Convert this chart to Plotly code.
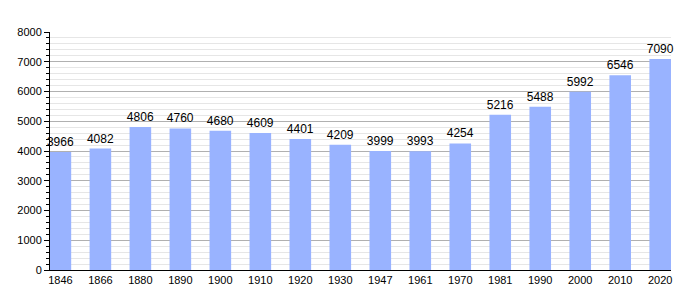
import plotly.graph_objects as go

years = ["1846", "1866", "1880", "1890", "1900", "1910", "1920", "1930", "1947", "1961",
         "1970", "1981", "1990", "2000", "2010", "2020"]
population = [3966, 4082, 4806, 4760, 4680, 4609, 4401, 4209, 3999, 3993,
              4254, 5216, 5488, 5992, 6546, 7090]

fig = go.Figure(go.Bar(
    x=list(range(len(years))), y=population,
    marker=dict(color="#99b3ff", line=dict(width=0)),
    width=0.54,
    text=[str(v) for v in population], textposition="outside",
    textfont=dict(family="Liberation Sans, Arial", size=12, color="black"),
    constraintext="none",
    cliponaxis=False,
))

fig.update_layout(
    width=700, height=300,
    margin=dict(l=50, r=29, t=32, b=30),
    plot_bgcolor="white", paper_bgcolor="white",
    font=dict(family="Liberation Sans, Arial", size=11, color="black"),
    showlegend=False,
)
fig.update_xaxes(
    tickmode="array", tickvals=list(range(len(years))), ticktext=years,
    range=[-0.26, 15.27], showgrid=False, showline=True, linecolor="black", linewidth=1,
    ticks="", zeroline=False,
)
fig.update_yaxes(
    range=[0, 8000], dtick=1000, showline=True, linecolor="black", linewidth=1,
    gridcolor="#b0b0b0", gridwidth=1, ticks="outside", ticklen=5, tickcolor="black",
    minor=dict(dtick=200, showgrid=True, gridcolor="#e6e6e6", ticks="outside", ticklen=3, tickcolor="black"),
    zeroline=False,
)

fig.write_html("out.html")
